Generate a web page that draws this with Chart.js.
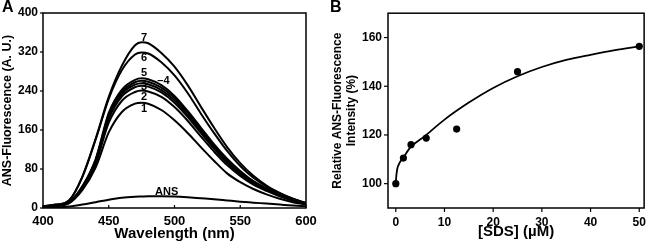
<!DOCTYPE html>
<html><head><meta charset="utf-8">
<script src="https://cdn.jsdelivr.net/npm/chart.js@4/dist/chart.umd.min.js"></script>
<style>
html,body{margin:0;padding:0;background:#fff;}
#wrap{position:relative;width:653px;height:243px;overflow:hidden;background:#fff;}
#ca{position:absolute;left:0;top:0;}
#cb{position:absolute;left:330px;top:0;}
.pl{position:absolute;font:bold 16px "Liberation Sans",Arial,sans-serif;color:#000;line-height:16px;}
</style></head><body>
<div id="wrap">
<canvas id="ca" width="325" height="243"></canvas>
<canvas id="cb" width="323" height="243"></canvas>
<div class="pl" style="left:2px;top:-1px;">A</div>
<div class="pl" style="left:330px;top:-1px;">B</div>
</div>
<script>
// ---------- Panel A data ----------
const wavelengths = [400,410,420,430,440,450,460,470,475,480,490,500,510,520,530,540,550,560,570,580,590,600];
const curve1 = [3,4,10,37,83,155,197,214,216,214,201,180,154,125,97,71,53,39,28,19,12,7];
const curve2 = [3,5,11,40,90,175,220,238,241,239,228,207,179,147,116,88,66,48,35,24,15,8];
const curve3 = [3,5,11,42,94,183,229,248,251,249,237,216,187,154,122,93,70,51,37,25,16,9];
const curve3b = [3,5,12,43,96,187,234,253,256,254,242,221,191,158,125,96,72,52,38,26,16,9];
const curve4 = [3,5,12,44,98,191,238,258,261,259,247,226,195,162,128,98,74,54,39,26,17,9];
const curve5 = [3,5,12,45,100,195,243,263,266,264,252,230,199,165,131,101,76,55,40,27,17,10];
const curve6 = [4,7,16,64,140,224,283,315,319,317,299,272,236,194,154,117,86,62,44,30,19,10];
const curve7 = [4,7,16,65,142,228,292,334,340,338,318,290,252,208,165,125,92,66,46,31,19,10];
const ansCurve = [0,1,3,7,12,17,21,23,23.5,24,24,23.5,22,20,18,15.5,13,11,9,7,5,3.5];
const spectra = [curve1,curve2,curve3,curve3b,curve4,curve5,curve6,curve7,ansCurve];
const xTicksA = [400,450,500,550,600];
const yTicksA = [0,80,160,240,320,400];
const curveLabelText = ['7','6','5','\u20134','3','2','1','ANS'];
const curveLabelX = [476.8,476.8,476.8,491.6,476.8,476.8,476.8,494];
const curveLabelY = [349,308,277,260,248,228,203,33];

// ---------- Panel B data ----------
const sdsConc = [0,1.5625,3.125,6.25,12.5,25,50];
const relIntensity = [100,110.5,116,118.7,122.4,146,156.4];
const fitConc = [0,0.1,0.3,0.8,1.5,3,6,10,15,20,25,30,35,40,45,50];
const fitIntensity = [100,103,106,108.6,110.6,114.9,119.6,126.3,133.3,139.3,144.1,147.9,150.8,152.9,154.8,156.4];
const xTicksB = [0,10,20,30,40,50];
const yTicksB = [100,120,140,160];

const FONT = '"Liberation Sans", Arial, sans-serif';
Chart.defaults.font.family = FONT;
Chart.defaults.color = '#000';

const frameTicks = {
  id: 'frameTicks',
  afterDraw(chart, args, opts) {
    const {ctx, chartArea: a, scales} = chart;
    ctx.save();
    ctx.strokeStyle = '#000';
    ctx.lineWidth = 1.5;
    ctx.strokeRect(a.left, a.top, a.right - a.left, a.bottom - a.top);
    ctx.lineWidth = 1.2;
    scales.x.ticks.forEach(t => {
      const p = scales.x.getPixelForValue(t.value);
      ctx.beginPath(); ctx.moveTo(p, a.bottom); ctx.lineTo(p, a.bottom + opts.xLen); ctx.stroke();
    });
    scales.y.ticks.forEach(t => {
      const p = scales.y.getPixelForValue(t.value);
      ctx.beginPath(); ctx.moveTo(a.left, p); ctx.lineTo(a.left - opts.yLen, p); ctx.stroke();
    });
    ctx.restore();
  }
};

const curveLabels = {
  id: 'curveLabels',
  afterDatasetsDraw(chart) {
    const {ctx, scales} = chart;
    ctx.save();
    ctx.font = 'bold 11px ' + FONT;
    ctx.fillStyle = '#000';
    ctx.textAlign = 'center';
    ctx.textBaseline = 'middle';
    curveLabelText.forEach((t, i) => {
      ctx.fillText(t, scales.x.getPixelForValue(curveLabelX[i]), scales.y.getPixelForValue(curveLabelY[i]));
    });
    ctx.restore();
  }
};

function fixedTicks(vals) { return s => { s.ticks = vals.map(v => ({value: v})); }; }

const tickFont = (sz) => ({size: sz, weight: 'bold', family: FONT});
const noGrid = {display: false, drawTicks: false, tickLength: 0};

new Chart(document.getElementById('ca'), {
  type: 'line',
  data: {
    datasets: spectra.map(arr => ({
      data: wavelengths.map((w, i) => ({x: w, y: arr[i]})),
      borderColor: '#000',
      borderWidth: 2,
      pointRadius: 0,
      fill: false,
      cubicInterpolationMode: 'monotone'
    }))
  },
  options: {
    responsive: false,
    animation: false,
    devicePixelRatio: 1,
    layout: {padding: {top: 13, right: 19, left: 0, bottom: 0}},
    plugins: {legend: {display: false}, tooltip: {enabled: false}, frameTicks: {xLen: -3, yLen: 3}},
    scales: {
      x: {
        type: 'linear', min: 400, max: 600,
        afterBuildTicks: fixedTicks(xTicksA),
        afterFit: s => { s.height = 35; },
        grid: noGrid, border: {display: false},
        ticks: {padding: 6, font: tickFont(13), color: '#000', maxRotation: 0, autoSkip: false},
        title: {display: true, text: 'Wavelength (nm)', font: {size: 15, weight: 'bold', family: FONT, lineHeight: 1.1}, color: '#000', padding: {top: 0, bottom: 1}}
      },
      y: {
        type: 'linear', min: 0, max: 400,
        afterBuildTicks: fixedTicks(yTicksA),
        afterFit: s => { s.width = 43; },
        grid: noGrid, border: {display: false},
        ticks: {padding: 5, font: tickFont(12), color: '#000', autoSkip: false},
        title: {display: true, text: 'ANS-Fluorescence (A. U.)', font: {size: 12.5, weight: 'bold', family: FONT}, color: '#000', padding: {top: 0, bottom: 0}}
      }
    }
  },
  plugins: [frameTicks, curveLabels]
});

new Chart(document.getElementById('cb'), {
  type: 'line',
  data: {
    datasets: [
      {
        data: fitConc.map((c, i) => ({x: c, y: fitIntensity[i]})),
        borderColor: '#000', borderWidth: 1.8, pointRadius: 0, fill: false,
        cubicInterpolationMode: 'monotone'
      },
      {
        data: sdsConc.map((c, i) => ({x: c, y: relIntensity[i]})),
        showLine: false, pointRadius: 3.6, pointBackgroundColor: '#000', pointBorderColor: '#000', pointBorderWidth: 0
      }
    ]
  },
  options: {
    responsive: false,
    animation: false,
    devicePixelRatio: 1,
    layout: {padding: {top: 13, right: 3, left: 0, bottom: 0}},
    plugins: {legend: {display: false}, tooltip: {enabled: false}, frameTicks: {xLen: 4, yLen: 4}},
    scales: {
      x: {
        type: 'linear', min: -1.6, max: 51,
        afterBuildTicks: fixedTicks(xTicksB),
        afterFit: s => { s.height = 35; },
        grid: noGrid, border: {display: false},
        ticks: {padding: 7, font: tickFont(12), color: '#000', maxRotation: 0, autoSkip: false},
        title: {display: true, text: '[SDS] (\u00b5M)', font: {size: 15, weight: 'bold', family: FONT, lineHeight: 1.1}, color: '#000', padding: {top: 0, bottom: 3}}
      },
      y: {
        type: 'linear', min: 90, max: 170,
        afterBuildTicks: fixedTicks(yTicksB),
        afterFit: s => { s.width = 58; },
        grid: noGrid, border: {display: false},
        ticks: {padding: 6, font: tickFont(12), color: '#000', autoSkip: false},
        title: {display: true, text: ['Relative ANS-Fluorescence', 'Intensity (%)'], font: {size: 12, weight: 'bold', family: FONT, lineHeight: 1.17}, color: '#000', padding: {top: 1, bottom: 0}}
      }
    }
  },
  plugins: [frameTicks]
});
</script>
</body></html>
